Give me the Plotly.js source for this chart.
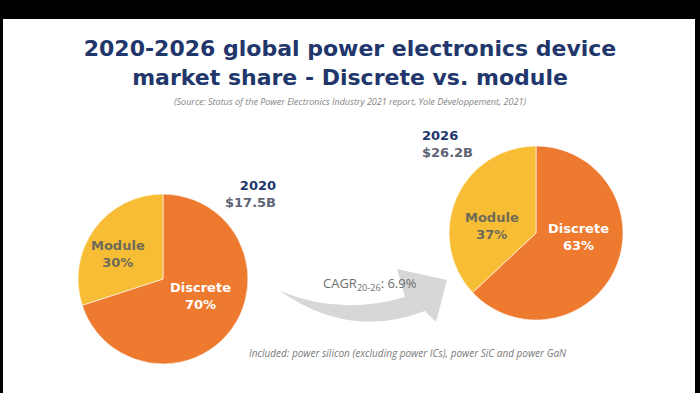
<!DOCTYPE html>
<html>
<head>
<meta charset="utf-8">
<script src="https://cdn.plot.ly/plotly-3.0.1.min.js"></script>
<style>html,body{margin:0;padding:0;background:#000;}#chart{width:700px;height:393px;}</style>
</head>
<body>
<div id="chart"></div>
<script>
// ---- data ----
const segments = ['Discrete', 'Module'];
const share2020 = [70, 30];
const share2026 = [63, 37];
const years = ['2020', '2026'];
const marketSize = ['$17.5B', '$26.2B'];
const cagrLabel = '20-26';
const cagrValue = 6.9;
const titleText = '2020-2026 global power electronics device<br>market share - Discrete vs. module';
const sourceText = '(Source: Status of the Power Electronics Industry 2021 report, Yole Développement, 2021)';
const noteText = 'Included: power silicon (excluding power ICs), power SiC and power GaN';

// ---- style ----
const W = 700, H = 393;
const px = x => x / W;
const py = y => 1 - y / H;
const sliceColors = ['#ee7a30', '#f7be35'];
const sliceTextColors = ['#ffffff', '#6e6a58'];
const navy = '#21366b';
const steel = '#5f6475';
// label block centres (pixels) per pie, per segment
const labelPos = [
  [[200, 296], [118, 254]],
  [[578, 237], [492, 226]]
];

function pieTrace(values, x0, x1, y0, y1) {
  return {
    type: 'pie',
    labels: segments,
    values: values,
    sort: false,
    direction: 'clockwise',
    rotation: 0,
    domain: {x: [px(x0), px(x1)], y: [py(y1), py(y0)]},
    marker: {colors: sliceColors, line: {color: 'rgba(255,255,255,0.6)', width: 1}},
    textinfo: 'none',
    hoverinfo: 'label+percent',
    showlegend: false
  };
}

const shares = [share2020, share2026];
const data = [
  pieTrace(share2020, 78, 248, 194, 364),
  pieTrace(share2026, 449, 623, 146, 320)
];

const sliceLabels = [];
shares.forEach((arr, p) => {
  arr.forEach((v, i) => {
    sliceLabels.push({
      xref: 'paper', yref: 'paper', x: px(labelPos[p][i][0]), y: py(labelPos[p][i][1]),
      xanchor: 'center', yanchor: 'middle', align: 'center', showarrow: false,
      text: '<b>' + segments[i] + '<br>' + v + '%</b>',
      font: {family: 'DejaVu Sans', size: 13, color: sliceTextColors[i]}
    });
  });
});

const layout = {
  width: W, height: H,
  margin: {l: 0, r: 0, t: 0, b: 0},
  paper_bgcolor: '#000000',
  plot_bgcolor: '#ffffff',
  showlegend: false,
  title: {
    text: '<b>' + titleText + '</b>',
    font: {family: 'DejaVu Sans', size: 22, color: navy},
    x: 0.5, xanchor: 'center',
    y: py(56), yanchor: 'top', yref: 'container'
  },
  shapes: [
    {type: 'rect', xref: 'paper', yref: 'paper', x0: px(3), x1: px(695), y0: 0, y1: py(19),
     fillcolor: '#ffffff', line: {width: 0}, layer: 'below'},
    {type: 'path', xref: 'paper', yref: 'paper', layer: 'below',
     path: 'M ' + px(280) + ',' + py(291) +
           ' Q ' + px(340) + ',' + py(316) + ' ' + px(405) + ',' + py(297) +
           ' L ' + px(397) + ',' + py(269) +
           ' L ' + px(447) + ',' + py(280) +
           ' L ' + px(436) + ',' + py(322) +
           ' L ' + px(425) + ',' + py(311) +
           ' Q ' + px(350) + ',' + py(340) + ' ' + px(280) + ',' + py(291) + ' Z',
     fillcolor: '#d7d7d7', line: {width: 0}}
  ],
  annotations: [
    {xref: 'paper', yref: 'paper', x: 0.5, y: py(101), xanchor: 'center', yanchor: 'middle',
     text: '<i>' + sourceText + '</i>', showarrow: false,
     font: {family: 'Open Sans', size: 9, color: '#858585'}},
    {xref: 'paper', yref: 'paper', x: px(278), y: py(176), xanchor: 'right', yanchor: 'top', align: 'right',
     text: '<b><span style="color:' + navy + '">' + years[0] + '</span><br><span style="color:' + steel + '">' + marketSize[0] + '</span></b>',
     showarrow: false, font: {family: 'DejaVu Sans', size: 13, color: navy}},
    {xref: 'paper', yref: 'paper', x: px(420), y: py(126), xanchor: 'left', yanchor: 'top', align: 'left',
     text: '<b><span style="color:' + navy + '">' + years[1] + '</span><br><span style="color:' + steel + '">' + marketSize[1] + '</span></b>',
     showarrow: false, font: {family: 'DejaVu Sans', size: 13, color: navy}},
    {xref: 'paper', yref: 'paper', x: px(321), y: py(284), xanchor: 'left', yanchor: 'middle',
     text: 'CAGR<sub>' + cagrLabel + '</sub>: ' + cagrValue.toFixed(1) + '%',
     showarrow: false, font: {family: 'Open Sans', size: 13, color: '#6e6e6e'}},
    {xref: 'paper', yref: 'paper', x: px(408), y: py(353), xanchor: 'center', yanchor: 'middle',
     text: '<i>' + noteText + '</i>', showarrow: false,
     font: {family: 'Open Sans', size: 10, color: '#7a7a7a'}}
  ].concat(sliceLabels)
};

Plotly.newPlot('chart', data, layout, {staticPlot: true, displayModeBar: false});
</script>
</body>
</html>
